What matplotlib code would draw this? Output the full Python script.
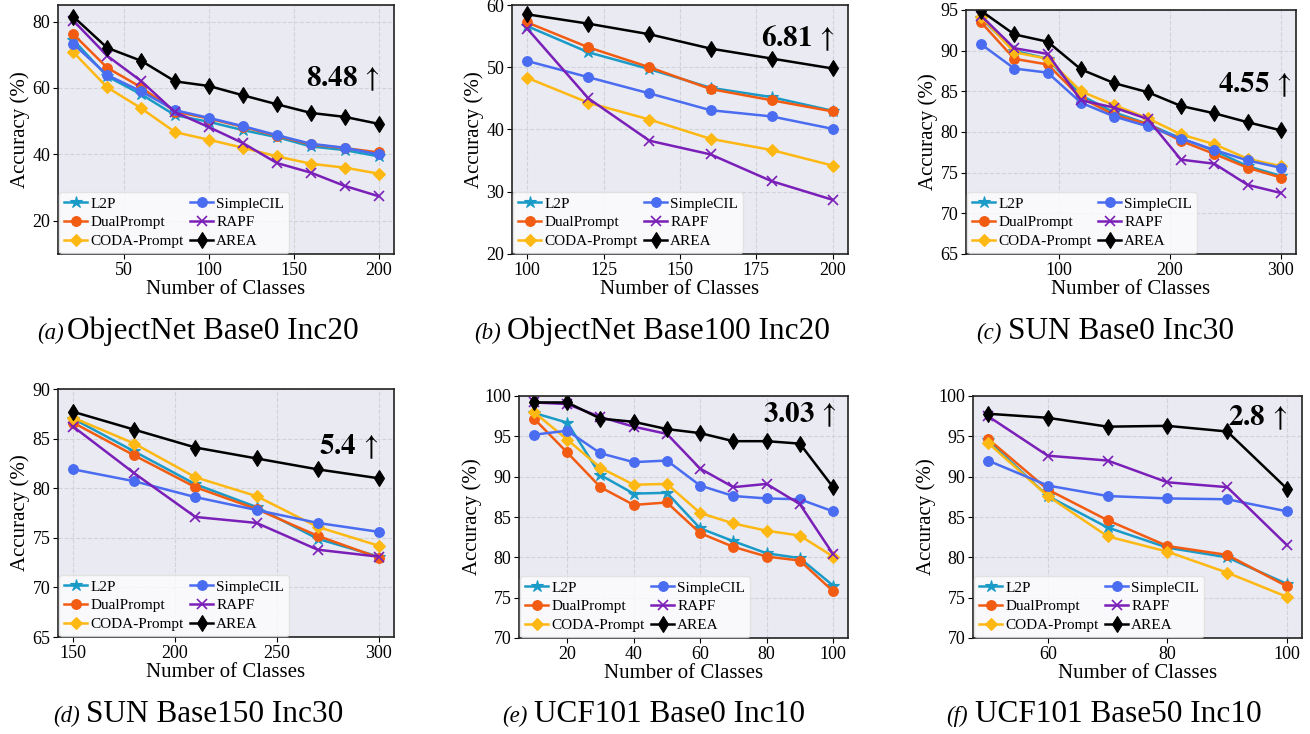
import matplotlib
matplotlib.use("Agg")
import matplotlib.pyplot as plt

plt.rcParams['font.family'] = ['Liberation Serif', 'DejaVu Serif']
plt.rcParams['mathtext.fontset'] = 'stix'

methods = ["L2P", "DualPrompt", "CODA-Prompt", "SimpleCIL", "RAPF", "AREA"]
colors = ["#1a9bc7", "#f25c12", "#fdb813", "#4a6cf0", "#7a1fb8", "black"]
markers = ["*", "o", "D", "o", "x", "d"]

# (a) ObjectNet Base0 Inc20
x_a = [20, 40, 60, 80, 100, 120, 140, 160, 180, 200]
acc_a = {
    "L2P":         [74.5, 63.5, 58.1, 51.8, 49.8, 47.3, 45.2, 42.4, 41.3, 39.4],
    "DualPrompt":  [76.2, 66.1, 60.2, 52.9, 50.8, 48.3, 45.6, 43.0, 41.9, 40.6],
    "CODA-Prompt": [70.8, 60.2, 53.9, 46.7, 44.4, 42.0, 39.4, 37.2, 36.0, 34.2],
    "SimpleCIL":   [73.3, 63.9, 59.0, 53.3, 51.0, 48.5, 45.8, 43.2, 42.0, 40.0],
    "RAPF":        [80.3, 69.7, 62.1, 52.7, 48.2, 43.4, 37.4, 34.5, 30.5, 27.4],
    "AREA":        [81.5, 72.1, 68.2, 62.0, 60.6, 57.8, 55.1, 52.5, 51.3, 49.2],
}

# (b) ObjectNet Base100 Inc20
x_b = [100, 120, 140, 160, 180, 200]
acc_b = {
    "L2P":         [56.6, 52.4, 49.7, 46.7, 45.2, 43.0],
    "DualPrompt":  [57.2, 53.2, 50.0, 46.5, 44.7, 42.9],
    "CODA-Prompt": [48.3, 44.3, 41.6, 38.5, 36.7, 34.2],
    "SimpleCIL":   [51.0, 48.4, 45.8, 43.1, 42.1, 40.1],
    "RAPF":        [56.2, 45.0, 38.2, 36.0, 31.7, 28.7],
    "AREA":        [58.5, 57.0, 55.3, 53.0, 51.4, 49.8],
}

# (c) SUN Base0 Inc30
x_c = [30, 60, 90, 120, 150, 180, 210, 240, 270, 300]
acc_c = {
    "L2P":         [94.0, 90.0, 89.0, 84.5, 82.4, 81.0, 79.2, 77.7, 75.8, 74.6],
    "DualPrompt":  [93.5, 89.0, 88.3, 84.2, 82.1, 81.0, 78.9, 77.3, 75.6, 74.4],
    "CODA-Prompt": [94.2, 89.8, 89.0, 85.0, 83.3, 81.7, 79.7, 78.5, 76.7, 75.8],
    "SimpleCIL":   [90.8, 87.8, 87.3, 83.6, 81.9, 80.7, 79.2, 77.8, 76.5, 75.6],
    "RAPF":        [94.3, 90.3, 89.6, 83.9, 83.0, 81.6, 76.6, 76.1, 73.5, 72.5],
    "AREA":        [94.9, 92.0, 91.1, 87.7, 86.0, 84.9, 83.2, 82.3, 81.2, 80.2],
}

# (d) SUN Base150 Inc30
x_d = [150, 180, 210, 240, 270, 300]
acc_d = {
    "L2P":         [87.0, 83.7, 80.4, 78.1, 74.9, 73.1],
    "DualPrompt":  [86.6, 83.3, 80.1, 77.9, 75.2, 73.0],
    "CODA-Prompt": [87.1, 84.5, 81.1, 79.2, 76.1, 74.2],
    "SimpleCIL":   [81.9, 80.7, 79.1, 77.8, 76.5, 75.6],
    "RAPF":        [86.2, 81.5, 77.1, 76.5, 73.8, 73.1],
    "AREA":        [87.7, 85.9, 84.1, 83.0, 81.9, 81.0],
}

# (e) UCF101 Base0 Inc10
x_e = [10, 20, 30, 40, 50, 60, 70, 80, 90, 100]
acc_e = {
    "L2P":         [97.9, 96.7, 90.2, 87.9, 88.0, 83.6, 82.0, 80.5, 79.9, 76.5],
    "DualPrompt":  [97.2, 93.0, 88.7, 86.5, 86.8, 83.0, 81.3, 80.1, 79.6, 75.8],
    "CODA-Prompt": [98.0, 94.6, 91.1, 89.0, 89.1, 85.5, 84.2, 83.3, 82.7, 80.1],
    "SimpleCIL":   [95.2, 95.7, 92.9, 91.8, 92.0, 88.9, 87.6, 87.3, 87.2, 85.7],
    "RAPF":        [99.2, 99.0, 97.4, 96.2, 95.3, 91.0, 88.7, 89.1, 86.6, 80.4],
    "AREA":        [99.2, 99.2, 97.2, 96.8, 95.9, 95.4, 94.4, 94.4, 94.1, 88.7],
}

# (f) UCF101 Base50 Inc10
x_f = [50, 60, 70, 80, 90, 100]
acc_f = {
    "L2P":         [94.5, 87.6, 83.7, 81.2, 80.0, 76.7],
    "DualPrompt":  [94.7, 88.4, 84.6, 81.4, 80.3, 76.4],
    "CODA-Prompt": [94.2, 87.6, 82.6, 80.7, 78.1, 75.1],
    "SimpleCIL":   [92.0, 88.9, 87.6, 87.3, 87.2, 85.7],
    "RAPF":        [97.5, 92.6, 92.0, 89.3, 88.7, 81.5],
    "AREA":        [97.8, 97.3, 96.2, 96.3, 95.6, 88.5],
}

gains = ["8.48", "6.81", "4.55", "5.4", "3.03", "2.8"]
tags = ["(a)", "(b)", "(c)", "(d)", "(e)", "(f)"]
titles = ["ObjectNet Base0 Inc20", "ObjectNet Base100 Inc20", "SUN Base0 Inc30",
          "SUN Base150 Inc30", "UCF101 Base0 Inc10", "UCF101 Base50 Inc10"]

panels = [
    (x_a, acc_a, (10, 85), [20, 40, 60, 80], [50, 100, 150, 200]),
    (x_b, acc_b, (20, 60), [20, 30, 40, 50, 60], [100, 125, 150, 175, 200]),
    (x_c, acc_c, (65, 95), [65, 70, 75, 80, 85, 90, 95], [100, 200, 300]),
    (x_d, acc_d, (65, 90), [65, 70, 75, 80, 85, 90], [150, 200, 250, 300]),
    (x_e, acc_e, (70, 100), [70, 75, 80, 85, 90, 95, 100], [20, 40, 60, 80, 100]),
    (x_f, acc_f, (70, 100), [70, 75, 80, 85, 90, 95, 100], [60, 80, 100]),
]

W, H = 1310, 734
# axes boxes in pixels: left, top, right, bottom
boxes = [(58, 5, 394, 254), (512, 5, 848, 254), (966, 10, 1296, 254),
         (58, 389, 394, 637), (519, 396, 848, 638), (973, 396, 1302, 638)]
gain_pos = [(0.958, 0.703), (0.961, 0.867), (0.988, 0.693),
            (0.952, 0.766), (0.967, 0.921), (0.954, 0.909)]
# caption: tag right edge, title left edge, baseline
cap_pos = [(64, 67, 339), (501, 507, 339), (1002, 1008, 339),
           (80, 86, 722), (528, 534, 722), (968, 975, 722)]

fig = plt.figure(figsize=(W / 100, H / 100), dpi=100)

for i, (xs, acc, ylim, yticks, xticks) in enumerate(panels):
    l, t, r, b = boxes[i]
    ax = fig.add_axes([l / W, 1 - b / H, (r - l) / W, (b - t) / H])
    ax.set_facecolor("#eaeaf2")
    for m, c, mk in zip(methods, colors, markers):
        ms = 9 if mk == "*" else (8 if mk == "d" else 7)
        if mk == "D":
            ms = 6.5
        ax.plot(xs, acc[m], color=c, marker=mk, markersize=ms, linewidth=1.8,
                label=m, markeredgewidth=1.2 if mk == "x" else 0.8)
    ax.set_ylim(*ylim)
    ax.set_yticks(yticks)
    ax.set_xticks(xticks)
    ax.grid(True, linestyle="--", color="#d2d2d9", linewidth=0.8)
    ax.set_axisbelow(True)
    for s in ax.spines.values():
        s.set_color("#222222")
        s.set_linewidth(1.2)
    ax.tick_params(labelsize=13, length=3.5, width=0.8, pad=2)
    ax.set_xlabel("Number of Classes", fontsize=15, labelpad=1)
    ax.set_ylabel("Accuracy (%)", fontsize=15, labelpad=2)
    leg = ax.legend(loc="lower left", ncol=2, fontsize=11, handlelength=1.5,
                    handletextpad=0.2, columnspacing=0.45, labelspacing=0.32,
                    borderpad=0.35, borderaxespad=0.05, framealpha=0.75,
                    edgecolor="#dddddd", fancybox=True)
    gx, gy = gain_pos[i]
    ax.text(gx, gy, r"$\mathbf{%s}\,\uparrow$" % gains[i], transform=ax.transAxes,
            ha="right", va="center", fontsize=21)
    tx, mx, by = cap_pos[i]
    fig.text(tx / W, 1 - by / H, tags[i], ha="right", va="baseline",
             fontsize=16.5, style="italic")
    fig.text(mx / W, 1 - by / H, titles[i], ha="left", va="baseline", fontsize=22.5)

fig.savefig("out.png", dpi=100)
